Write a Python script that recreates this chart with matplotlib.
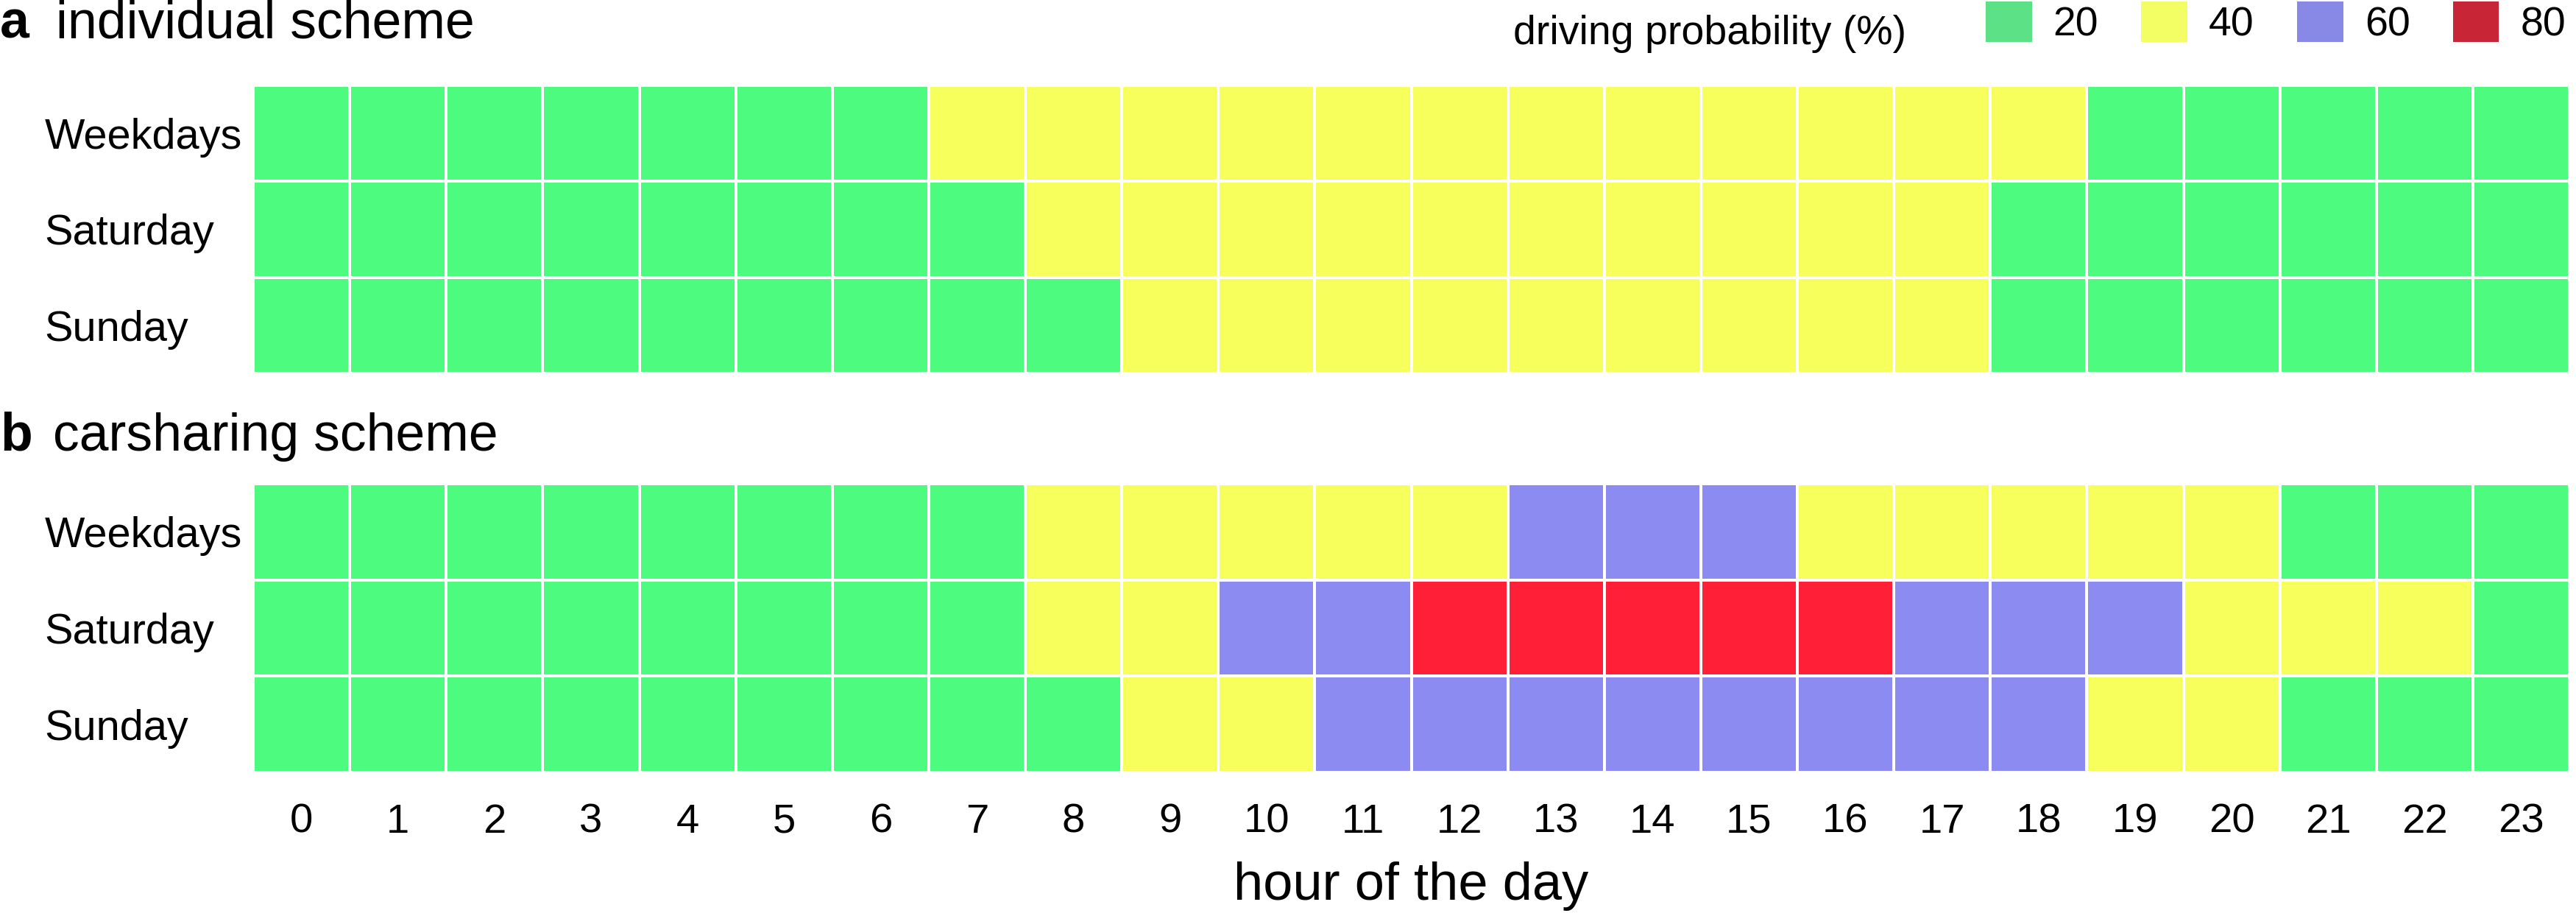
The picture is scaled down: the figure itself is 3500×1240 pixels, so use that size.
import numpy as np
import matplotlib
matplotlib.use("Agg")
import matplotlib.pyplot as plt
from matplotlib.colors import ListedColormap, BoundaryNorm
from matplotlib.patches import Patch

plt.rcParams['font.family'] = ['Liberation Sans', 'DejaVu Sans']

hours = list(range(24))
days = ['Weekdays', 'Saturday', 'Sunday']
levels = [20, 40, 60, 80]

# driving probability (%) per hour
ind_weekdays = [20, 20, 20, 20, 20, 20, 20, 40, 40, 40, 40, 40, 40, 40, 40, 40, 40, 40, 40, 20, 20, 20, 20, 20]
ind_saturday = [20, 20, 20, 20, 20, 20, 20, 20, 40, 40, 40, 40, 40, 40, 40, 40, 40, 40, 20, 20, 20, 20, 20, 20]
ind_sunday   = [20, 20, 20, 20, 20, 20, 20, 20, 20, 40, 40, 40, 40, 40, 40, 40, 40, 40, 20, 20, 20, 20, 20, 20]

car_weekdays = [20, 20, 20, 20, 20, 20, 20, 20, 40, 40, 40, 40, 40, 60, 60, 60, 40, 40, 40, 40, 40, 20, 20, 20]
car_saturday = [20, 20, 20, 20, 20, 20, 20, 20, 40, 40, 60, 60, 80, 80, 80, 80, 80, 60, 60, 60, 40, 40, 40, 20]
car_sunday   = [20, 20, 20, 20, 20, 20, 20, 20, 20, 40, 40, 60, 60, 60, 60, 60, 60, 60, 60, 40, 40, 20, 20, 20]

cell_colors = ['#4DFC7F', '#F6FF5C', '#8C8BF2', '#FF1F37']
legend_colors = ['#5DE186', '#F2FE64', '#8888E6', '#C82637']

cmap = ListedColormap(cell_colors)
norm = BoundaryNorm([10, 30, 50, 70, 90], cmap.N)

W, H = 3500, 1240
fig = plt.figure(figsize=(35, 12.4), dpi=100)

def px_axes(left, top, right, bottom):
    return fig.add_axes([left / W, 1 - bottom / H, (right - left) / W, (bottom - top) / H])

ax_a = px_axes(344, 116, 3491, 507)
ax_b = px_axes(344, 657, 3491, 1049)

panels = [(ax_a, [ind_weekdays, ind_saturday, ind_sunday]),
          (ax_b, [car_weekdays, car_saturday, car_sunday])]

for ax, rows in panels:
    z = np.array(rows)
    ax.pcolormesh(np.arange(25), np.arange(4), z, cmap=cmap, norm=norm,
                  edgecolors='white', linewidth=1.6)
    ax.set_xlim(0, 24)
    ax.set_ylim(3, 0)
    for s in ax.spines.values():
        s.set_visible(False)
    ax.set_yticks(np.arange(3) + 0.5)
    ax.set_yticklabels(days, fontsize=41.5, ha='left')
    ax.tick_params(axis='y', length=0, pad=204)
    ax.set_xticks(np.arange(24) + 0.5)
    ax.tick_params(axis='x', length=0)

ax_a.set_xticklabels([])
ax_b.set_xticklabels([str(h) for h in hours], fontsize=40.5)
ax_b.tick_params(axis='x', pad=30)
ax_b.set_xlabel('hour of the day', fontsize=52, labelpad=20)

# panel titles
fig.text(0, 1 - 52 / H, 'a', fontsize=51.5, fontweight='bold', va='baseline')
fig.text(76 / W, 1 - 52 / H, 'individual scheme', fontsize=51.5, va='baseline')
fig.text(0, 1 - 612 / H, 'b', fontsize=51.5, fontweight='bold', va='baseline')
fig.text(72 / W, 1 - 612 / H, 'carsharing scheme', fontsize=51.5, va='baseline')

# legend
fig.text(2590 / W, 1 - 60 / H, 'driving probability (%)', fontsize=40,
         ha='right', va='baseline')
handles = [Patch(facecolor=c, edgecolor='none') for c in legend_colors]
fig.legend(handles, [str(v) for v in levels], ncol=4, frameon=False,
           fontsize=40, loc='upper right', bbox_to_anchor=(3486 / W, 1 - 2 / H),
           borderpad=0, borderaxespad=0, handlelength=1.13, handleheight=1.15,
           handletextpad=0.52, columnspacing=1.05)

fig.savefig('out.png', dpi=100)
